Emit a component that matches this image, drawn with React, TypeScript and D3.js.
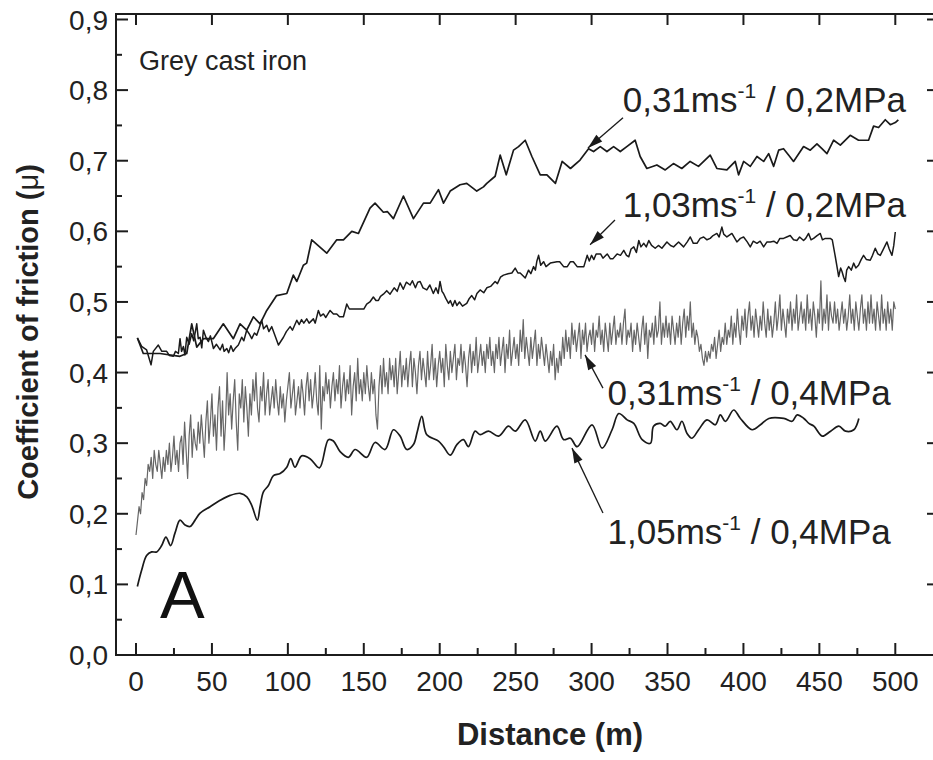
import React from 'react';
import * as d3 from 'd3';

const W = 933;
const H = 760;

// ---------- axes ----------
const xMajorTicks = [0, 50, 100, 150, 200, 250, 300, 350, 400, 450, 500];
const xMinorTicks = [25, 75, 125, 175, 225, 275, 325, 375, 425, 475];
const yMajorTicks = [0, 0.1, 0.2, 0.3, 0.4, 0.5, 0.6, 0.7, 0.8, 0.9];
const yMinorTicks = [0.05, 0.15, 0.25, 0.35, 0.45, 0.55, 0.65, 0.75, 0.85];
const yTickLabels = ['0,0', '0,1', '0,2', '0,3', '0,4', '0,5', '0,6', '0,7', '0,8', '0,9'];

// ---------- data ----------
// 0,31 m/s / 0,2 MPa
const s031_02: [number, number][] = [
  [0.9, 0.449], [4.8, 0.427], [15.8, 0.427], [28.9, 0.423], [33.4, 0.427], [36.7, 0.469], [40, 0.436],
  [44.4, 0.448], [50.9, 0.448], [57.5, 0.469], [64.1, 0.448], [68.5, 0.469], [72.9, 0.46], [77.3, 0.479],
  [81.7, 0.469], [86.1, 0.488], [92.6, 0.509], [99.3, 0.512], [103.6, 0.538], [105.9, 0.529], [110.2, 0.552],
  [112.4, 0.555], [115.7, 0.588], [125.6, 0.569], [132.2, 0.588], [136.6, 0.588], [142.1, 0.6], [146.5, 0.597],
  [154.1, 0.633], [157.4, 0.64], [162.9, 0.627], [165.5, 0.628], [169.5, 0.618], [176.1, 0.65], [182.7, 0.618],
  [189.3, 0.64], [193.7, 0.64], [199.2, 0.659], [202.5, 0.64], [206.9, 0.657], [213.4, 0.666], [217.8, 0.668],
  [224.4, 0.657], [228.8, 0.663], [231.0, 0.668], [236.5, 0.678], [239.8, 0.708], [243.8, 0.68], [248.6, 0.715],
  [251.9, 0.72], [256.3, 0.729], [260.7, 0.706], [266.2, 0.68], [270.6, 0.68], [276.2, 0.668], [280.6, 0.699],
  [286.1, 0.689], [292.4, 0.701], [298.0, 0.717], [301.3, 0.713], [305.7, 0.72], [310.1, 0.713], [314.5, 0.72],
  [318.9, 0.713], [323.2, 0.72], [328.7, 0.729], [332.0, 0.706], [336.4, 0.689], [343.0, 0.694], [348.5, 0.687],
  [353.9, 0.696], [359.4, 0.689], [364.9, 0.699], [370.4, 0.692], [378.1, 0.708], [382.5, 0.689], [389.1, 0.687],
  [394.6, 0.699], [396.8, 0.68], [400.1, 0.699], [404.5, 0.692], [408.9, 0.706], [413.3, 0.699], [416.6, 0.71],
  [419.9, 0.692], [423.2, 0.715], [426.4, 0.717], [429.7, 0.708], [433.0, 0.699], [439.6, 0.72], [444.0, 0.715],
  [448.4, 0.724], [451.7, 0.717], [455.0, 0.71], [459.4, 0.729], [463.8, 0.722], [470.3, 0.736], [475.8, 0.729],
  [482.4, 0.729], [485.7, 0.749], [489.0, 0.747], [493.4, 0.758], [496.7, 0.751], [500.0, 0.754], [502.0, 0.758],
];

// 1,03 m/s / 0,2 MPa
const s103_02: [number, number][] = [
  [0.9, 0.449], [3.7, 0.437], [7, 0.432], [9.9, 0.411], [11.4, 0.43], [14.7, 0.439], [17, 0.43], [20.2, 0.43],
  [22, 0.424], [24.6, 0.423], [26, 0.43], [27.9, 0.427], [29, 0.448], [30, 0.43], [31.2, 0.437], [32.2, 0.425],
  [33.4, 0.45], [35, 0.44], [36.7, 0.455], [38, 0.445], [40, 0.469], [41, 0.448], [42.2, 0.45], [43.3, 0.435],
  [44.4, 0.46], [46, 0.45], [47.7, 0.444], [49, 0.452], [51, 0.434], [53, 0.44], [55.4, 0.432], [57, 0.44],
  [58, 0.43], [59.8, 0.434], [61, 0.428], [62.5, 0.438], [64, 0.43], [65.2, 0.434], [67.4, 0.439], [69.6, 0.45],
  [71, 0.445], [72.9, 0.46], [74.5, 0.455], [76.2, 0.448], [78, 0.456], [79.5, 0.453], [81, 0.462], [82.8, 0.474],
  [84, 0.462], [86.1, 0.467], [87.5, 0.458], [89.4, 0.465], [93.8, 0.439], [97.1, 0.45], [99, 0.458], [101.5, 0.465],
  [103, 0.46], [105.9, 0.474], [107.5, 0.468], [109, 0.475], [110.5, 0.47], [112.4, 0.476], [114, 0.47], [116.8, 0.476],
  [118, 0.47], [120.1, 0.488], [121.5, 0.48], [123.4, 0.483], [125, 0.478], [127.8, 0.488], [130, 0.483], [132.2, 0.483],
  [134, 0.479], [136.6, 0.479], [138.8, 0.497], [140.5, 0.49], [143.2, 0.49], [147.6, 0.49], [150, 0.49], [151.9, 0.497],
  [154, 0.5], [156.3, 0.507], [158, 0.502], [159.6, 0.502], [161, 0.508], [162.9, 0.511], [165.1, 0.516], [167.3, 0.511],
  [170, 0.52], [172, 0.515], [173.9, 0.527], [176, 0.518], [178, 0.528], [180.5, 0.524], [182, 0.53], [184, 0.52],
  [185.5, 0.528], [187.1, 0.529], [189, 0.52], [191.5, 0.517], [193.5, 0.524], [195.8, 0.512], [197.5, 0.52], [199, 0.512],
  [200.2, 0.529], [201.5, 0.515], [202.5, 0.512], [204, 0.505], [205.8, 0.498], [207, 0.502], [208.5, 0.494], [210, 0.502],
  [211.3, 0.495], [213, 0.5], [215, 0.494], [217.8, 0.498], [219.5, 0.505], [221.1, 0.509], [223, 0.503], [224.5, 0.512],
  [226.6, 0.517], [229, 0.513], [231.0, 0.52], [233.5, 0.522], [236.5, 0.529], [238, 0.526], [240, 0.535], [242.0, 0.538],
  [245, 0.54], [247.5, 0.541], [249.7, 0.548], [251.5, 0.541], [253.0, 0.541], [256.3, 0.534], [258.5, 0.545], [260, 0.54],
  [261.8, 0.55], [263, 0.545], [264, 0.558], [265.1, 0.566], [266.5, 0.552], [268.4, 0.557], [270, 0.55], [272.8, 0.555],
  [277.2, 0.557], [279, 0.557], [281.6, 0.55], [284, 0.55], [286.1, 0.557], [288, 0.557], [290.5, 0.55], [294.9, 0.55],
  [297.1, 0.566], [298.5, 0.558], [300, 0.566], [301.5, 0.56], [303, 0.568], [305.9, 0.568], [307.5, 0.562], [310.3, 0.568],
  [312.4, 0.561], [314, 0.561], [316.8, 0.568], [319, 0.566], [321.2, 0.573], [323, 0.566], [324.5, 0.564], [326, 0.575],
  [327.8, 0.578], [329.5, 0.57], [331.1, 0.587], [332.5, 0.578], [334.4, 0.583], [336, 0.578], [337.7, 0.587], [339.5, 0.58],
  [341.9, 0.576], [344, 0.58], [346.3, 0.576], [349.6, 0.585], [352, 0.58], [354.0, 0.578], [357.3, 0.585], [360.6, 0.578],
  [363, 0.585], [365.0, 0.592], [367, 0.583], [369.4, 0.583], [371.5, 0.59], [373.8, 0.592], [376, 0.588], [378.1, 0.59],
  [380, 0.594], [382.5, 0.597], [384, 0.592], [385.8, 0.606], [387, 0.596], [389.1, 0.592], [392.4, 0.597], [395.7, 0.585],
  [398, 0.59], [400.1, 0.592], [402.5, 0.585], [404.5, 0.578], [406.5, 0.586], [408.9, 0.583], [411, 0.586], [413.3, 0.578],
  [415.5, 0.585], [417.7, 0.585], [420, 0.586], [422.1, 0.583], [424, 0.59], [426.4, 0.59], [428.5, 0.592], [430.8, 0.594],
  [433, 0.588], [435.2, 0.587], [437, 0.592], [439.6, 0.587], [441, 0.59], [442.9, 0.597], [444.5, 0.588], [446.2, 0.59],
  [448.5, 0.594], [450.6, 0.597], [452, 0.588], [453.9, 0.59], [457.2, 0.59], [458.5, 0.588], [460.5, 0.564], [462, 0.545],
  [462.7, 0.536], [464, 0.548], [464.9, 0.543], [466, 0.535], [467.1, 0.529], [468, 0.545], [469.3, 0.55], [471, 0.545],
  [472.6, 0.555], [474, 0.548], [475.8, 0.552], [477.5, 0.56], [479.1, 0.566], [481, 0.56], [483.5, 0.559], [485, 0.566],
  [486.8, 0.576], [488.5, 0.568], [490.1, 0.566], [492, 0.574], [494.5, 0.585], [496, 0.575], [497.8, 0.566], [499, 0.58],
  [500.0, 0.599],
];

// 0,31 m/s / 0,4 MPa  (one reading per metre, 0 .. 500 m)
const s031_04_step = 1;
const s031_04: number[] = [
  0.17, 0.19, 0.21, 0.2, 0.23, 0.22, 0.25, 0.24, 0.27, 0.26,
  0.28, 0.25, 0.29, 0.27, 0.26, 0.29, 0.27, 0.25, 0.28, 0.26,
  0.29, 0.27, 0.3, 0.26, 0.28, 0.31, 0.27, 0.29, 0.26, 0.3,
  0.31, 0.27, 0.33, 0.29, 0.25, 0.31, 0.34, 0.28, 0.32, 0.3,
  0.29, 0.33, 0.3, 0.34, 0.31, 0.28, 0.33, 0.36, 0.3, 0.33,
  0.37, 0.31, 0.34, 0.29, 0.35, 0.38, 0.31, 0.36, 0.29, 0.33,
  0.4, 0.34, 0.37, 0.32, 0.36, 0.39, 0.33, 0.29, 0.37, 0.35,
  0.39, 0.33, 0.38, 0.35, 0.31, 0.37, 0.34, 0.39, 0.36, 0.4,
  0.35, 0.33, 0.38, 0.36, 0.4, 0.34, 0.37, 0.39, 0.34, 0.36,
  0.38, 0.35, 0.39, 0.36, 0.34, 0.38, 0.35, 0.37, 0.33, 0.36,
  0.38, 0.4, 0.35, 0.37, 0.39, 0.34, 0.36, 0.38, 0.35, 0.39,
  0.37, 0.34, 0.38, 0.4, 0.36, 0.39, 0.35, 0.37, 0.4, 0.36,
  0.34, 0.41, 0.32, 0.38, 0.36, 0.4, 0.37, 0.39, 0.35, 0.38,
  0.4, 0.36, 0.39, 0.37, 0.41, 0.35, 0.38, 0.4, 0.36, 0.39,
  0.37, 0.41, 0.34, 0.38, 0.4, 0.36, 0.42, 0.37, 0.39, 0.36,
  0.4, 0.37, 0.41, 0.38, 0.36, 0.4, 0.37, 0.39, 0.34, 0.32,
  0.38, 0.41, 0.37, 0.42, 0.38, 0.4, 0.37, 0.42, 0.39, 0.41,
  0.38, 0.42, 0.37, 0.4, 0.43, 0.38, 0.41, 0.39, 0.42, 0.38,
  0.41, 0.43, 0.38, 0.42, 0.4, 0.37, 0.41, 0.43, 0.39, 0.42,
  0.4, 0.38, 0.43, 0.39, 0.41, 0.44, 0.39, 0.42, 0.38, 0.41,
  0.43, 0.4, 0.42, 0.38, 0.44, 0.41, 0.39, 0.43, 0.4, 0.42,
  0.44, 0.39, 0.42, 0.41, 0.44, 0.4, 0.43, 0.41, 0.38, 0.42,
  0.44, 0.4, 0.43, 0.41, 0.45, 0.4, 0.42, 0.44, 0.41, 0.43,
  0.4, 0.44, 0.42, 0.45, 0.41, 0.43, 0.4, 0.44, 0.42, 0.45,
  0.41, 0.43, 0.45, 0.4, 0.44, 0.42, 0.46, 0.41, 0.43, 0.45,
  0.42, 0.44, 0.41, 0.46, 0.43, 0.475, 0.42, 0.45, 0.43, 0.41,
  0.45, 0.42, 0.44, 0.46, 0.41, 0.44, 0.42, 0.45, 0.43, 0.41,
  0.44, 0.42, 0.4, 0.43, 0.41, 0.44, 0.39, 0.42, 0.4, 0.43,
  0.41, 0.45, 0.42, 0.46, 0.43, 0.45, 0.42, 0.47, 0.44, 0.46,
  0.43, 0.45, 0.47, 0.42, 0.46, 0.44, 0.47, 0.43, 0.45, 0.46,
  0.44, 0.47, 0.43, 0.46, 0.45, 0.48, 0.44, 0.46, 0.43, 0.47,
  0.45, 0.43, 0.47, 0.44, 0.46, 0.48, 0.44, 0.46, 0.45, 0.47,
  0.44, 0.47, 0.49, 0.44, 0.46, 0.45, 0.47, 0.43, 0.46, 0.44,
  0.47, 0.45, 0.43, 0.46, 0.48, 0.44, 0.47, 0.42, 0.46, 0.45,
  0.47, 0.44, 0.48, 0.45, 0.46, 0.5, 0.44, 0.47, 0.45, 0.48,
  0.45, 0.47, 0.44, 0.48, 0.46, 0.44, 0.47, 0.45, 0.48, 0.44,
  0.47, 0.49, 0.45, 0.48, 0.46, 0.5, 0.45, 0.47, 0.44, 0.46,
  0.45, 0.43, 0.44, 0.42, 0.41, 0.43, 0.415, 0.43, 0.42, 0.44,
  0.43, 0.45, 0.42, 0.44, 0.46, 0.43, 0.45, 0.44, 0.47, 0.44,
  0.46, 0.45, 0.48, 0.44, 0.47, 0.45, 0.49, 0.46, 0.44, 0.48,
  0.46, 0.49, 0.45, 0.48, 0.5, 0.46, 0.48, 0.45, 0.49, 0.47,
  0.45, 0.48, 0.46, 0.5, 0.47, 0.45, 0.49, 0.46, 0.48, 0.45,
  0.47, 0.5, 0.46, 0.48, 0.51, 0.46, 0.49, 0.47, 0.45, 0.49,
  0.47, 0.5, 0.46, 0.49, 0.47, 0.51, 0.46, 0.48, 0.5, 0.47,
  0.49, 0.46, 0.51, 0.47, 0.49, 0.46, 0.5, 0.48, 0.45, 0.49,
  0.47, 0.53, 0.46, 0.49, 0.47, 0.51, 0.46, 0.5, 0.48, 0.47,
  0.5, 0.47, 0.49, 0.46, 0.48, 0.5, 0.47, 0.49, 0.46, 0.48,
  0.51, 0.47, 0.49, 0.46, 0.5, 0.48, 0.46, 0.49, 0.51, 0.47,
  0.49, 0.46, 0.5, 0.47, 0.51, 0.47, 0.49, 0.46, 0.5, 0.48,
  0.46, 0.51, 0.47, 0.49, 0.46, 0.5, 0.47, 0.49, 0.46, 0.5,
  0.49,
];

// 1,05 m/s / 0,4 MPa
const s105_04: [number, number][] = [
  [0.9, 0.097], [3.7, 0.12], [7, 0.141], [10.3, 0.146], [13.6, 0.146], [16.9, 0.155], [19.7, 0.167], [22.8, 0.155],
  [25.7, 0.173], [29, 0.191], [32.3, 0.184], [35.6, 0.182], [38.9, 0.191], [42.2, 0.201], [48.8, 0.21], [55.4, 0.219],
  [62, 0.226], [68.6, 0.229], [73, 0.224], [76.2, 0.212], [79.9, 0.191], [81.7, 0.21], [83.9, 0.231], [87.2, 0.24],
  [90.5, 0.254], [94.9, 0.257], [99.3, 0.266], [101.9, 0.278], [104.7, 0.266], [109.1, 0.282], [114.6, 0.278],
  [120.8, 0.265], [126.7, 0.305], [130, 0.303], [134.4, 0.288], [139.9, 0.28], [144.3, 0.291], [151.9, 0.28],
  [157.4, 0.301], [164, 0.291], [169.5, 0.319], [173.9, 0.31], [178.3, 0.291], [182.7, 0.298], [185.3, 0.317],
  [188.2, 0.338], [191.5, 0.312], [199.2, 0.303], [202.5, 0.295], [206.9, 0.283], [211.3, 0.298], [215.6, 0.305],
  [218.9, 0.295], [223.3, 0.317], [226.6, 0.312], [232.1, 0.317], [238.7, 0.31], [245.3, 0.324], [249.7, 0.317],
  [256.3, 0.333], [262.9, 0.303], [266.2, 0.317], [269.5, 0.303], [277.2, 0.324], [281.6, 0.305], [286.1, 0.307],
  [290.5, 0.295], [300.3, 0.326], [306.9, 0.293], [313.5, 0.319], [317.9, 0.342], [323.4, 0.333], [327.8, 0.328],
  [333.3, 0.305], [338.8, 0.3], [340.8, 0.324], [345.2, 0.328], [348.5, 0.324], [351.8, 0.331], [356.2, 0.319],
  [359.5, 0.331], [362.8, 0.314], [366.1, 0.307], [370.5, 0.319], [376, 0.333], [381.5, 0.326], [384.8, 0.34],
  [388.1, 0.331], [393.6, 0.347], [398, 0.335], [405.7, 0.319], [411.2, 0.326], [416.7, 0.335], [426.6, 0.335],
  [432.1, 0.331], [435.4, 0.34], [439.8, 0.335], [443.1, 0.328], [446.4, 0.324], [451.9, 0.31], [457.4, 0.317],
  [462.8, 0.324], [467.2, 0.317], [472.7, 0.319], [476, 0.335],
];

// annotations: [label main, label tail], text anchor (distance, value), arrow from -> tip
const annLabelsMain = ['0,31ms', '1,03ms', '0,31ms', '1,05ms'];
const annLabelsTail = [' / 0,2MPa', ' / 0,2MPa', ' / 0,4MPa', ' / 0,4MPa'];
const annTextPos: [number, number][] = [[320.5, 0.769], [320.5, 0.621], [310.5, 0.354], [310.5, 0.157]];
const annArrowFrom: [number, number][] = [[320.7, 0.761], [315.4, 0.616], [307.5, 0.378], [307.5, 0.201]];
const annArrowTip: [number, number][] = [[297.6, 0.718], [299, 0.581], [295.7, 0.425], [287.1, 0.293]];

const FONT = '"Liberation Sans", Arial, Helvetica, sans-serif';

export default function App() {
  const left = 116;
  const right = 935;
  const top = 14;
  const bottom = 655;

  const x = d3.scaleLinear().domain([0, 500]).range([136, 895.3]);
  const y = d3.scaleLinear().domain([0, 0.9]).range([655, 19.5]);

  const line = d3.line<[number, number]>().x((d) => x(d[0])).y((d) => y(d[1]));
  const smooth = d3
    .line<[number, number]>()
    .x((d) => x(d[0]))
    .y((d) => y(d[1]))
    .curve(d3.curveCatmullRom.alpha(0.5));

  const grey: [number, number][] = s031_04.map((v, i) => [i * s031_04_step, v]);

  const axisColor = '#1c1c1c';

  const arrowHead = (from: [number, number], tip: [number, number]) => {
    const x1 = x(from[0]);
    const y1 = y(from[1]);
    const x2 = x(tip[0]);
    const y2 = y(tip[1]);
    const dx = x2 - x1;
    const dy = y2 - y1;
    const len = Math.sqrt(dx * dx + dy * dy);
    const ux = dx / len;
    const uy = dy / len;
    const L = 15;
    const Wd = 4.5;
    const bx = x2 - ux * L;
    const by = y2 - uy * L;
    return `M${x2},${y2}L${bx - uy * Wd},${by + ux * Wd}L${bx + uy * Wd},${by - ux * Wd}Z`;
  };

  return (
    <svg
      width={W}
      height={H}
      viewBox={`0 0 ${W} ${H}`}
      style={{ position: 'absolute', left: 0, top: 0, background: '#fff', display: 'block' }}
      fontFamily={FONT}
    >
      <rect x={0} y={0} width={W} height={H} fill="#fff" />

      {/* data lines */}
      <path d={line(grey) || ''} fill="none" stroke="#666666" strokeWidth={1.2} strokeLinejoin="round" />
      <path d={smooth(s105_04) || ''} fill="none" stroke="#1a1a1a" strokeWidth={1.7} strokeLinejoin="round" />
      <path d={line(s103_02) || ''} fill="none" stroke="#1a1a1a" strokeWidth={1.5} strokeLinejoin="round" />
      <path d={line(s031_02) || ''} fill="none" stroke="#1a1a1a" strokeWidth={1.7} strokeLinejoin="round" />

      {/* frame */}
      <rect x={left} y={top} width={right - left} height={bottom - top} fill="none" stroke={axisColor} strokeWidth={2} />

      {/* ticks */}
      {xMajorTicks.map((t) => (
        <g key={'xm' + t}>
          <line x1={x(t)} x2={x(t)} y1={bottom} y2={bottom - 12} stroke={axisColor} strokeWidth={2} />
          <line x1={x(t)} x2={x(t)} y1={top} y2={top + 11} stroke={axisColor} strokeWidth={2} />
          <text x={x(t)} y={691} textAnchor="middle" fontSize={28} fill="#222">
            {t}
          </text>
        </g>
      ))}
      {xMinorTicks.map((t) => (
        <line key={'xn' + t} x1={x(t)} x2={x(t)} y1={bottom} y2={bottom - 7} stroke={axisColor} strokeWidth={2} />
      ))}
      {yMajorTicks.map((t, i) => (
        <g key={'ym' + t}>
          <line x1={left} x2={left + 12} y1={y(t)} y2={y(t)} stroke={axisColor} strokeWidth={2} />
          <line x1={right} x2={right - 8} y1={y(t)} y2={y(t)} stroke={axisColor} strokeWidth={2} />
          <text x={108} y={y(t) + 10} textAnchor="end" fontSize={28} fill="#222">
            {yTickLabels[i]}
          </text>
        </g>
      ))}
      {yMinorTicks.map((t) => (
        <line key={'yn' + t} x1={left} x2={left + 6} y1={y(t)} y2={y(t)} stroke={axisColor} strokeWidth={2} />
      ))}

      {/* axis titles */}
      <text x={550} y={745} textAnchor="middle" fontSize={31} fontWeight="bold" fill="#222">
        Distance (m)
      </text>
      <text
        transform={`translate(38, 332) rotate(-90)`}
        textAnchor="middle"
        fontSize={29}
        fontWeight="bold"
        fill="#222"
      >
        Coefficient of friction (<tspan fontWeight="normal">μ</tspan>)
      </text>

      {/* in-plot texts */}
      <text x={139} y={70} fontSize={27} fill="#222">
        Grey cast iron
      </text>
      <text x={160} y={618} fontSize={67} fill="#111">
        A
      </text>

      {/* annotations */}
      {annLabelsMain.map((lab, i) => (
        <g key={'ann' + i}>
          <line
            x1={x(annArrowFrom[i][0])}
            y1={y(annArrowFrom[i][1])}
            x2={x(annArrowTip[i][0])}
            y2={y(annArrowTip[i][1])}
            stroke="#1a1a1a"
            strokeWidth={1.3}
          />
          <path d={arrowHead(annArrowFrom[i], annArrowTip[i])} fill="#1a1a1a" />
          <text x={x(annTextPos[i][0])} y={y(annTextPos[i][1])} fontSize={35} fill="#222">
            {lab}
            <tspan dy={-14} fontSize={21}>
              -1
            </tspan>
            <tspan dy={14}>{annLabelsTail[i]}</tspan>
          </text>
        </g>
      ))}
    </svg>
  );
}
